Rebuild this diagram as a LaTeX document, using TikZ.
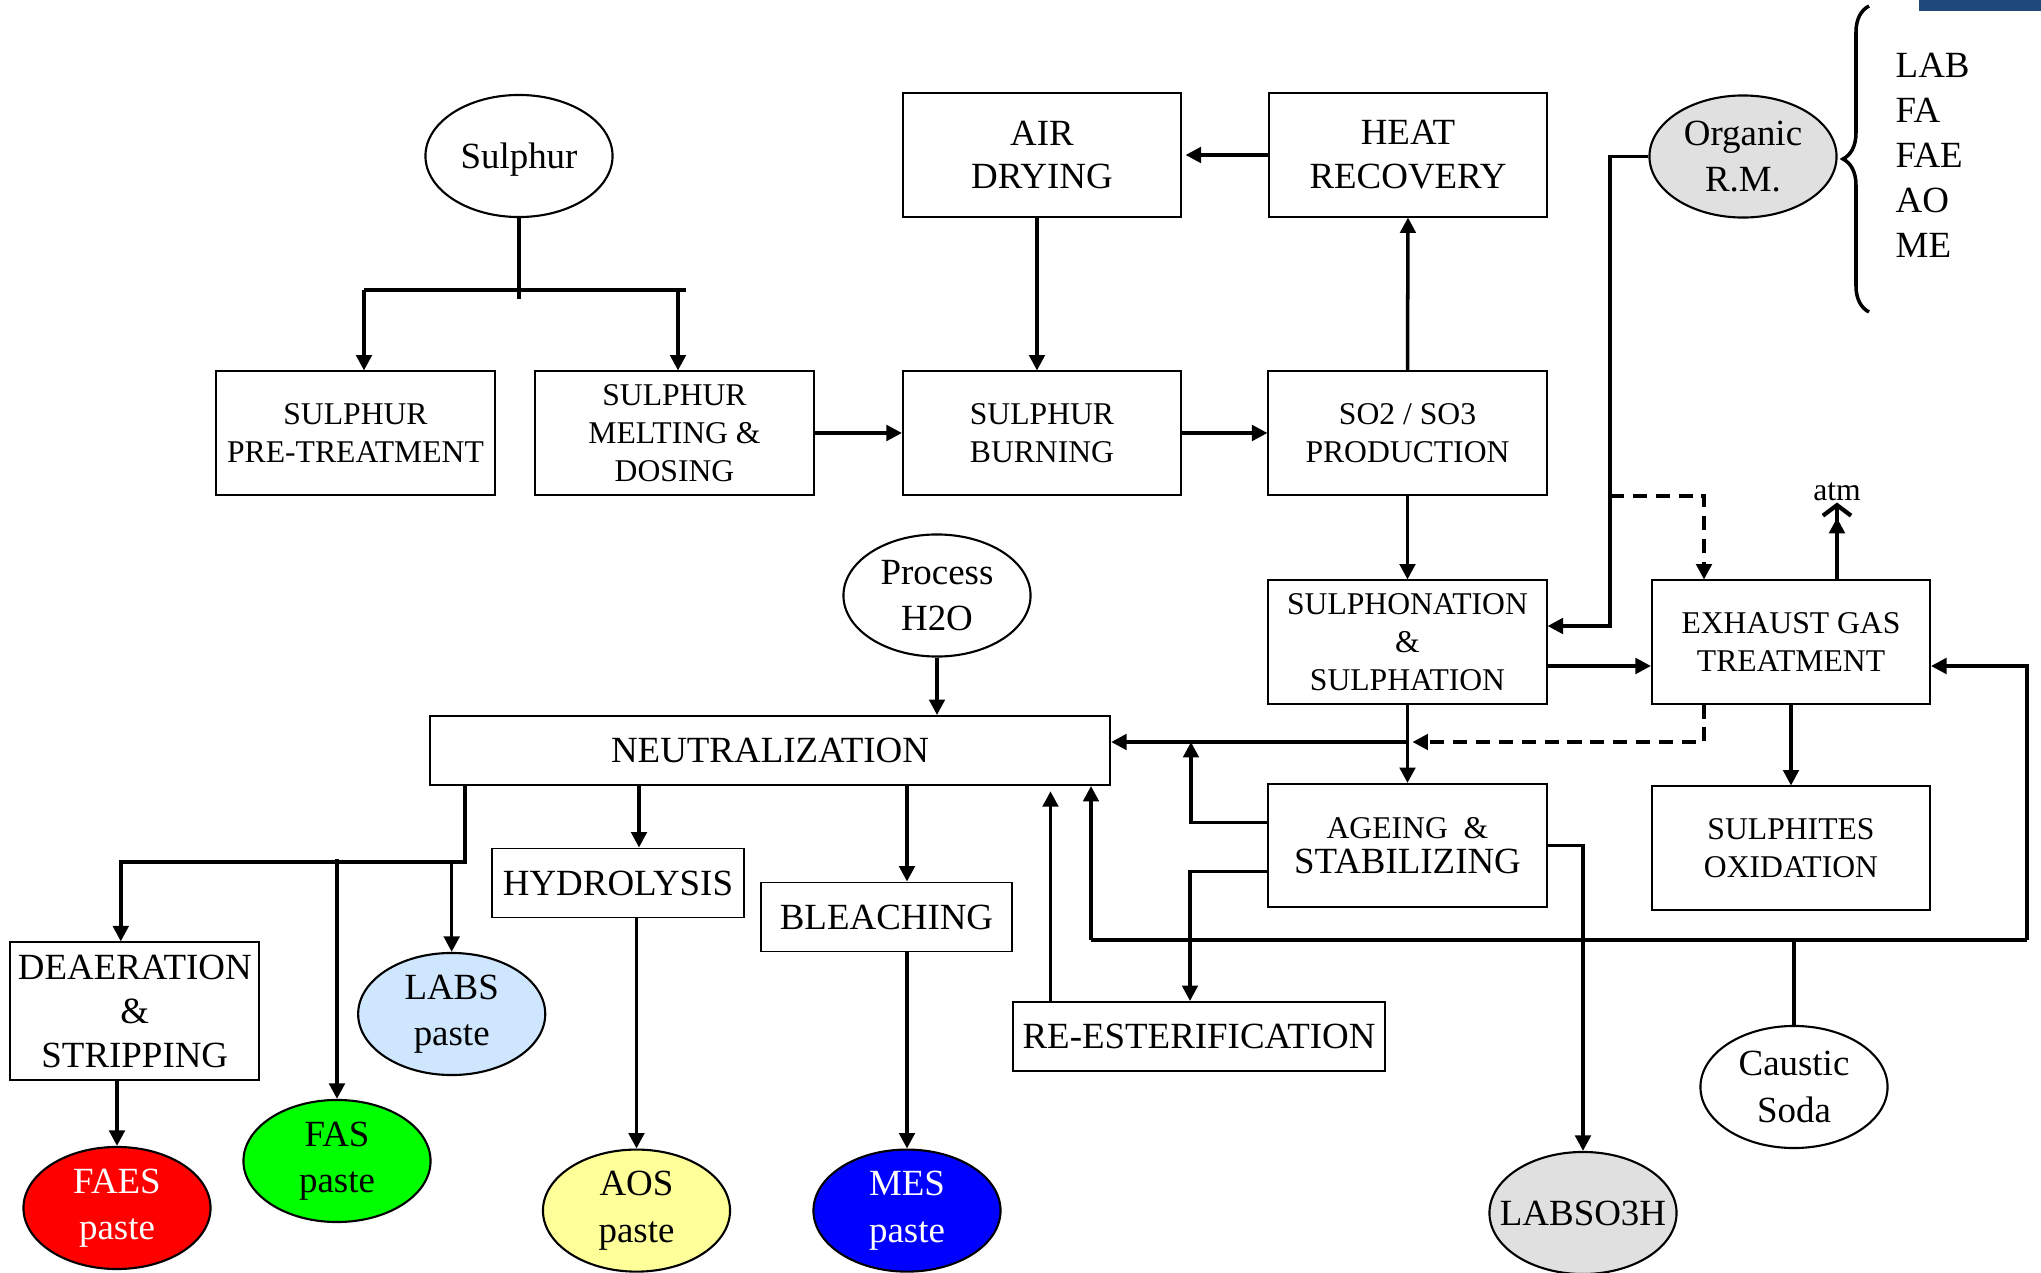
\documentclass[tikz,border=0pt]{standalone}
\usepackage{fontspec}
\setmainfont{Liberation Serif}
\usetikzlibrary{calc}
\usetikzlibrary{shapes.geometric, arrows.meta}
\usetikzlibrary{decorations.pathreplacing}
\definecolor{rmgray}{RGB}{224,224,224}
\definecolor{labsblue}{RGB}{207,230,255}
\definecolor{aosyellow}{RGB}{255,255,153}
\definecolor{cornerblue}{RGB}{31,73,125}
\newcommand{\fbig}{\fontsize{10.5}{12.5}\selectfont}
\newcommand{\ffeed}{\fontsize{10.5}{13.2}\selectfont}
\newcommand{\fsmall}{\fontsize{9}{10.8}\selectfont}

\begin{document}
\begin{tikzpicture}[x=0.01cm, y=-0.01cm,
    box/.style={draw, line width=0.55pt, minimum width=2.78cm, minimum height=1.23cm,
        inner sep=1pt, align=center, font=\fsmall},
    flat/.style={draw, line width=0.55pt, minimum height=0.69cm, inner sep=1pt,
        align=center, font=\fbig},
    feed/.style={draw, ellipse, line width=0.6pt, minimum width=1.87cm,
        minimum height=1.22cm, inner sep=0pt, align=center, font=\ffeed},
    pipe/.style={line width=1pt},
    flow/.style={pipe, -{Triangle[length=4.4pt,width=4.4pt]}},
    gasflow/.style={flow, dash pattern=on 4pt off 2.5pt}]
    % Page frame (pixels of the sheet, y downwards)
    \useasboundingbox (0,0) rectangle (2041,1273);
    \fill[cornerblue] (1919,0) rectangle (2041,11);

    % Sulphur line
    \node[feed, text depth=0pt] (sulphur) at (519,156) {Sulphur};
    \node[box] (pre) at (355.5,433) {SULPHUR\\PRE-TREATMENT};
    \node[box] (melt) at (674.5,433) {SULPHUR\\MELTING \&\\DOSING};
    \node[box] (burn) at (1042,433) {SULPHUR\\BURNING};
    \node[box] (soprod) at (1407.5,433) {SO2 / SO3\\PRODUCTION};
    \node[box, font=\fbig] (air) at (1042,155) {AIR\\DRYING};
    \node[box, font=\fbig] (heat) at (1408,155) {HEAT\\RECOVERY};

    % Organic raw materials
    \node[feed, fill=rmgray] (organic) at (1743,156.5) {Organic\\R.M.};
    \draw[line width=1pt, decorate, decoration={brace, amplitude=7.4pt}]
        (1869,312) -- (1869,6);
    \foreach \k/\rm in {0/LAB, 1/FA, 2/FAE, 3/AO, 4/ME}
        \node[anchor=west, inner sep=0pt, font=\fbig] (rm\k) at (1895,{65+45*\k}) {\rm};

    % Sulphonation and gas side
    \node[box] (sulph) at (1407.5,642) {SULPHONATION\\\&\\SULPHATION};
    \node[box] (exhaust) at (1791,642) {EXHAUST GAS\\TREATMENT};
    \node[inner sep=0pt, font=\fsmall] (atm) at (1837,492) {atm};
    \node[box] (sulphite) at (1791,848) {SULPHITES\\OXIDATION};
    \node[box] (ageing) at (1407.5,845.5)
        {{\fsmall AGEING \ \&}\\[-1pt]{\fbig STABILIZING}};

    % Neutralization and products
    \node[flat, minimum width=6.8cm] (neut) at (770,750.5) {NEUTRALIZATION};
    \node[feed] (h2o) at (937,595.5) {Process\\H2O};
    \node[flat, minimum width=3.72cm] (reest) at (1199,1036.5) {RE-ESTERIFICATION};
    \node[feed] (caustic) at (1794,1087) {Caustic\\Soda};
    \node[feed, fill=rmgray] (labso) at (1583,1213) {\makebox[0pt]{LABSO3H}};
    \node[flat, minimum width=2.52cm] (hydro) at (618,883) {HYDROLYSIS};
    \node[flat, minimum width=2.5cm] (bleach) at (886.5,917) {BLEACHING};
    \node[flat, minimum width=2.49cm, minimum height=1.38cm] (deaer) at (134.8,1011.4)
        {DEAERATION\\\&\\STRIPPING};
    \node[feed, fill=aosyellow] (aos) at (636.5,1210.6) {AOS\\paste};
    \node[feed, fill=blue, text=white] (mes) at (907,1210.6) {MES\\paste};
    \node[feed, fill=red, text=white] (faes) at (117,1208) {FAES\\paste};
    \node[feed, fill=green] (fas) at (337,1161) {FAS\\paste};
    \node[feed, fill=labsblue] (labs) at (451.7,1014) {LABS\\paste};

    % Sulphur feed split
    \coordinate (sbarL) at (364,290);
    \coordinate (sbarR) at (678,290);
    \draw[pipe] (sulphur.south) -- ($(sulphur.south |- sbarL)+(0,9)$);
    \draw[pipe] (sbarL) -- ($(sbarR)+(8,0)$);
    \draw[flow] (sbarL) -- (sbarL |- pre.north);
    \draw[flow] (sbarR) -- (sbarR |- melt.north);

    % Air / SO3 loop
    \draw[flow] (melt.east) -- (burn.west);
    \draw[flow] (burn.east) -- (soprod.west);
    \draw[flow] (soprod.north) -- (heat.south);
    \draw[flow, shorten >=1pt] (heat.west) -- (air.east);
    \draw[flow] ($(air.south)+(-5,0)$) -- ($(burn.north)+(-5,0)$);

    % Organic feed and gas lines
    \coordinate (rmdrop) at (1610,156.5);
    \coordinate (dtap) at (1610,496);
    \draw[flow] (organic.west) -- (rmdrop) |- ($(sulph.east)+(0,-16)$);
    \draw[gasflow] (dtap) -| ($(exhaust.north)+(-87,0)$);
    \draw[flow, -{Triangle[length=4.4pt,width=4.4pt] Straight Barb[length=3pt,width=8pt,line width=1.2pt,sep=-1.5pt]}]
        ($(exhaust.north)+(46,0)$) -- ($(atm.south)+(0,6)$);
    \draw[flow] (soprod.south) -- (sulph.north);
    \draw[flow] ($(sulph.east)+(0,24)$) -- ($(exhaust.west)+(0,24)$);
    \draw[flow] (exhaust.south) -- (sulphite.north);

    % Acid to neutralization
    \coordinate (mix) at (1407.5,742);
    \draw[flow] (sulph.south) -- (ageing.north);
    \draw[gasflow] ($(exhaust.south)+(-87,0)$) |- ($(mix)+(5,0)$);
    \draw[flow] (mix) -- (mix -| neut.east);
    \draw[flow] ($(ageing.west)+(0,-23)$) -| ($(mix)+(-216.5,0)$);
    \draw[flow] ($(ageing.west)+(0,26)$) -| ($(reest.north)+(-9,0)$);
    \coordinate (rback) at ($(reest.north)+(-148.5,0)$);
    \draw[flow, shorten >=1.5pt] (rback) -- (rback |- neut.south);
    \draw[flow] (ageing.east) -| (labso.north);

    % Caustic soda bus
    \coordinate (busL) at (1091,940);
    \coordinate (busR) at (2027,940);
    \draw[pipe] (caustic.north) -- (caustic.north |- busL);
    \draw[pipe] (busL) -- (busR);
    \draw[flow] (busR) |- ($(exhaust.east)+(0,24)$);
    \draw[flow] (busL) -- (busL |- neut.south);
    \draw[flow] (h2o.south) -- (h2o.south |- neut.north);

    % Neutralization outlets
    \coordinate (nsplit) at (465,862);
    \draw[flow] (nsplit |- neut.south) -- (nsplit) -| ($(deaer.north)+(-14,0)$);
    \draw[flow] ($(nsplit -| fas.north)+(0,-3)$) -- (fas.north);
    \draw[flow] (nsplit -| labs.north) -- (labs.north);
    \draw[flow] ($(neut.south -| hydro.north)+(21,0)$) -- ($(hydro.north)+(21,0)$);
    \draw[flow] (aos.north |- hydro.south) -- (aos.north);
    \draw[flow] (mes.north |- neut.south) -- (mes.north |- bleach.north);
    \draw[flow] (mes.north |- bleach.south) -- (mes.north);
    \draw[flow] (faes.north |- deaer.south) -- (faes.north);
\end{tikzpicture}
\end{document}
